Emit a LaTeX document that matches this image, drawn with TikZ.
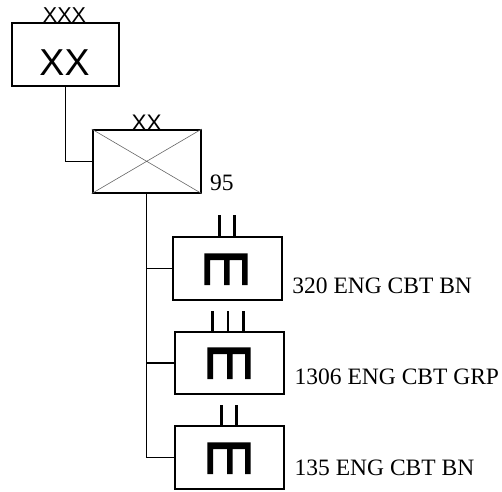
\documentclass[tikz,border=0pt]{standalone}
\usepackage{fontspec}
\setmainfont{Liberation Serif}
\newfontfamily\arialf{Liberation Sans}
\begin{document}
\begin{tikzpicture}[x=1pt,y=-1pt,
  unitbox/.style={draw,line width=2pt,rectangle,inner sep=0pt,minimum width=#1,minimum height=62.5pt},
  link/.style={line width=1.4pt},
  tick/.style={line width=2.6pt},
  diag/.style={line width=0.6pt,black!60},
  lbl/.style={anchor=base west,inner sep=0pt,font=\fontsize{23.5}{23.5}\selectfont},
  ech/.style={anchor=base,inner sep=0pt},
  engr/.pic={\fill (-21.7,16) -- (-21.7,-15.7) -- (21.7,-15.7) -- (21.7,16) -- (16.1,16) -- (16.1,-9) -- (3.5,-9) -- (3.5,16) -- (-2,16) -- (-2,-9) -- (-15.8,-9) -- (-15.8,16) -- cycle;}
]
\useasboundingbox (0,0) rectangle (502,491);
% boxes
\node[unitbox=107pt,minimum height=63pt] (b1) at (65.5,54.5) {};
\node[unitbox=108pt] (b2) at (146.7,161.3) {};
\node[unitbox=109pt] (b3) at (227.2,268.7) {};
\node[unitbox=109pt] (b4) at (229.5,362.9) {};
\node[unitbox=109pt] (b5) at (229.5,457.6) {};
% echelon and text
\node[ech,font=\arialf\fontsize{21.5}{21.5}\selectfont] (e1) at (64.5,22.5) {XXX};
\node[ech,font=\arialf\fontsize{37.5}{37.5}\selectfont] (t1) at (64.5,75) {XX};
\node[ech,font=\arialf\fontsize{22.5}{22.5}\selectfont] (e2) at (146.7,130) {XX};
\draw[diag] (b2.north west) -- (b2.south east) (b2.north east) -- (b2.south west);
\node[lbl] (l2) at (210,190) {95};
% engineer symbols
\path (226,269) pic {engr};
\path (229,363) pic {engr};
\path (229,458) pic {engr};
% ticks
\draw[tick] ([xshift=-7.5pt]b3.north) -- ++(0,-21) ([xshift=7.5pt]b3.north) -- ++(0,-21);
\draw[tick] ([xshift=-17pt]b4.north) -- ++(0,-20) ([xshift=-1.5pt]b4.north) -- ++(0,-20) ([xshift=14pt]b4.north) -- ++(0,-20);
\draw[tick] ([xshift=-8pt]b5.north) -- ++(0,-20) ([xshift=7pt]b5.north) -- ++(0,-20);
% labels
\node[lbl] (l3) at ([xshift=9.5pt]b3.east |- 0,293.5) {320 ENG CBT BN};
\node[lbl] (l4) at ([xshift=9.5pt]b4.east |- 0,384.5) {1306 ENG CBT GRP};
\node[lbl] (l5) at ([xshift=9.5pt]b5.east |- 0,475) {135 ENG CBT BN};
% connectors
\draw[link] (b1.south) |- (b2.west);
\draw[link] (b2.south) |- (b5.west);
\draw[link] (b2.south |- b3.west) -- (b3.west);
\draw[link] (b2.south |- b4.west) -- (b4.west);
\end{tikzpicture}
\end{document}
